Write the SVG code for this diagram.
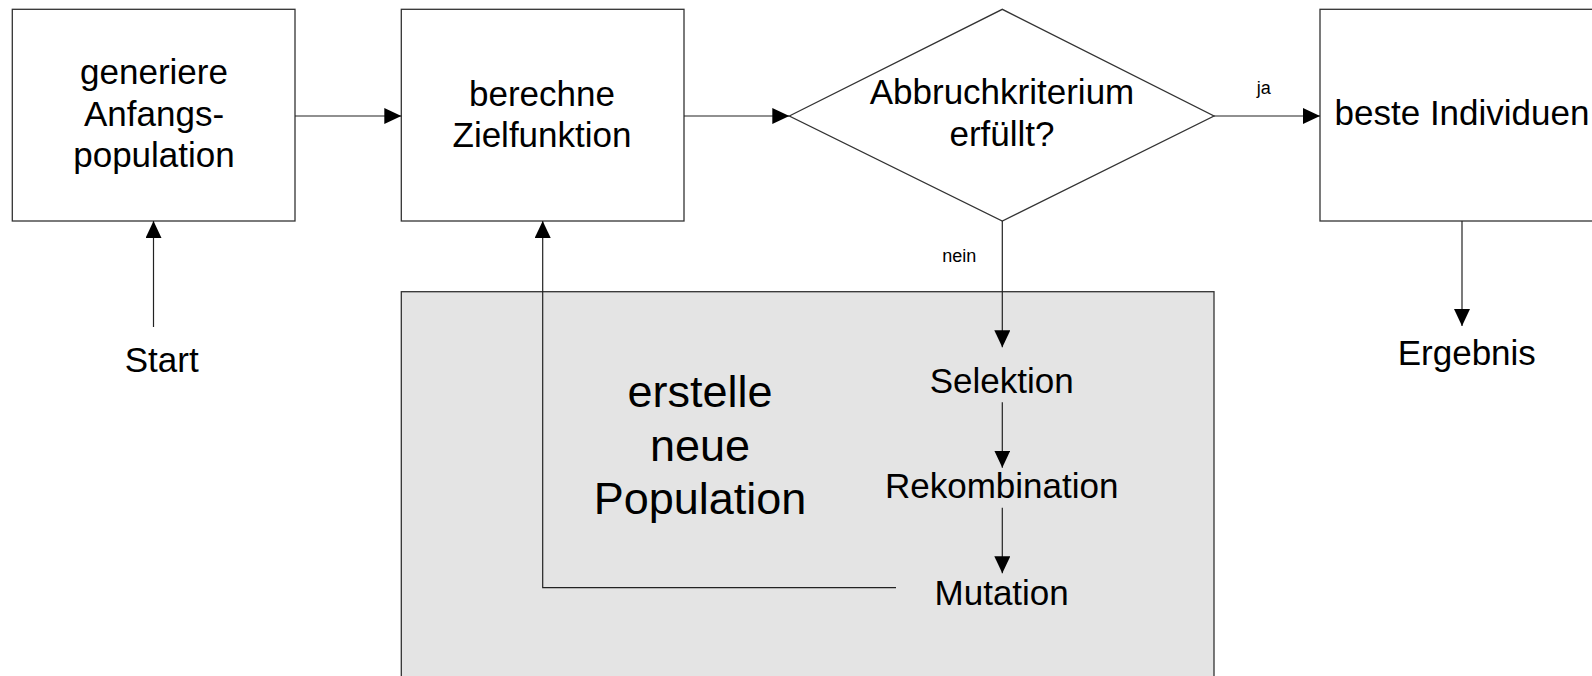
<svg xmlns="http://www.w3.org/2000/svg" width="1592" height="676" viewBox="0 0 1592 676">
<style>
.box{fill:#fff;stroke:#333;stroke-width:1.3}
.grey{fill:#e4e4e4;stroke:#333;stroke-width:1.3}
.t{font-family:"Liberation Sans",Arial,sans-serif;font-size:35px;fill:#000;text-anchor:middle}
.big{font-size:45px}
.small{font-size:18px}
.c{fill:none;stroke:#222;stroke-width:1.2}
</style>
<defs>
<marker id="ah" markerUnits="userSpaceOnUse" markerWidth="18" markerHeight="16" refX="17" refY="8" orient="auto">
<path d="M0,0 L17,8 L0,16 z" fill="#000"/>
</marker>
</defs>
<rect width="1592" height="676" fill="#fff"/>
<g id="newpop">
<rect class="grey" x="401.3" y="291.7" width="812.7" height="400"/>
<text class="t big" x="700" y="406.7">erstelle</text>
<text class="t big" x="700" y="461">neue</text>
<text class="t big" x="700" y="514">Population</text>
</g>
<g id="init">
<rect class="box" x="12.3" y="9.3" width="282.7" height="211.7"/>
<text class="t" x="154" y="84">generiere</text>
<text class="t" x="154" y="125.5">Anfangs-</text>
<text class="t" x="154" y="167">population</text>
</g>
<g id="eval">
<rect class="box" x="401.3" y="9.3" width="282.7" height="211.7"/>
<text class="t" x="542" y="106">berechne</text>
<text class="t" x="542" y="146.7">Zielfunktion</text>
</g>
<g id="decision">
<polygon class="box" points="789.3,116 1002.3,9.3 1214,116 1002.3,221"/>
<text class="t" x="1002" y="104">Abbruchkriterium</text>
<text class="t" x="1002" y="145.7">erfüllt?</text>
</g>
<g id="best">
<rect class="box" x="1320" y="9.3" width="290" height="211.7"/>
<text class="t" x="1462" y="125">beste Individuen</text>
</g>
<g id="start"><text class="t" x="161.7" y="371.7">Start</text></g>
<g id="result"><text class="t" x="1466.8" y="365">Ergebnis</text></g>
<g id="selektion"><text class="t" x="1001.7" y="393.3">Selektion</text></g>
<g id="rekombination"><text class="t" x="1001.7" y="498.3">Rekombination</text></g>
<g id="mutation"><text class="t" x="1001.7" y="605">Mutation</text></g>
<g id="connectors">
<path class="c" d="M295,116 L401.3,116" marker-end="url(#ah)"/>
<path class="c" d="M684,116 L789.3,116" marker-end="url(#ah)"/>
<path class="c" d="M1214,116 L1320,116" marker-end="url(#ah)"/>
<text class="t small" x="1263.7" y="94.3">ja</text>
<path class="c" d="M153.5,327 L153.5,221" marker-end="url(#ah)"/>
<path class="c" d="M1462,221 L1462,326" marker-end="url(#ah)"/>
<path class="c" d="M1002.3,221 L1002.3,347.3" marker-end="url(#ah)"/>
<text class="t small" x="959.3" y="261.7">nein</text>
<path class="c" d="M1002.3,402.3 L1002.3,467.7" marker-end="url(#ah)"/>
<path class="c" d="M1002.3,507.7 L1002.3,573.3" marker-end="url(#ah)"/>
<path class="c" d="M896,587.7 L542.7,587.7 L542.7,221" marker-end="url(#ah)"/>
</g>
</svg>
